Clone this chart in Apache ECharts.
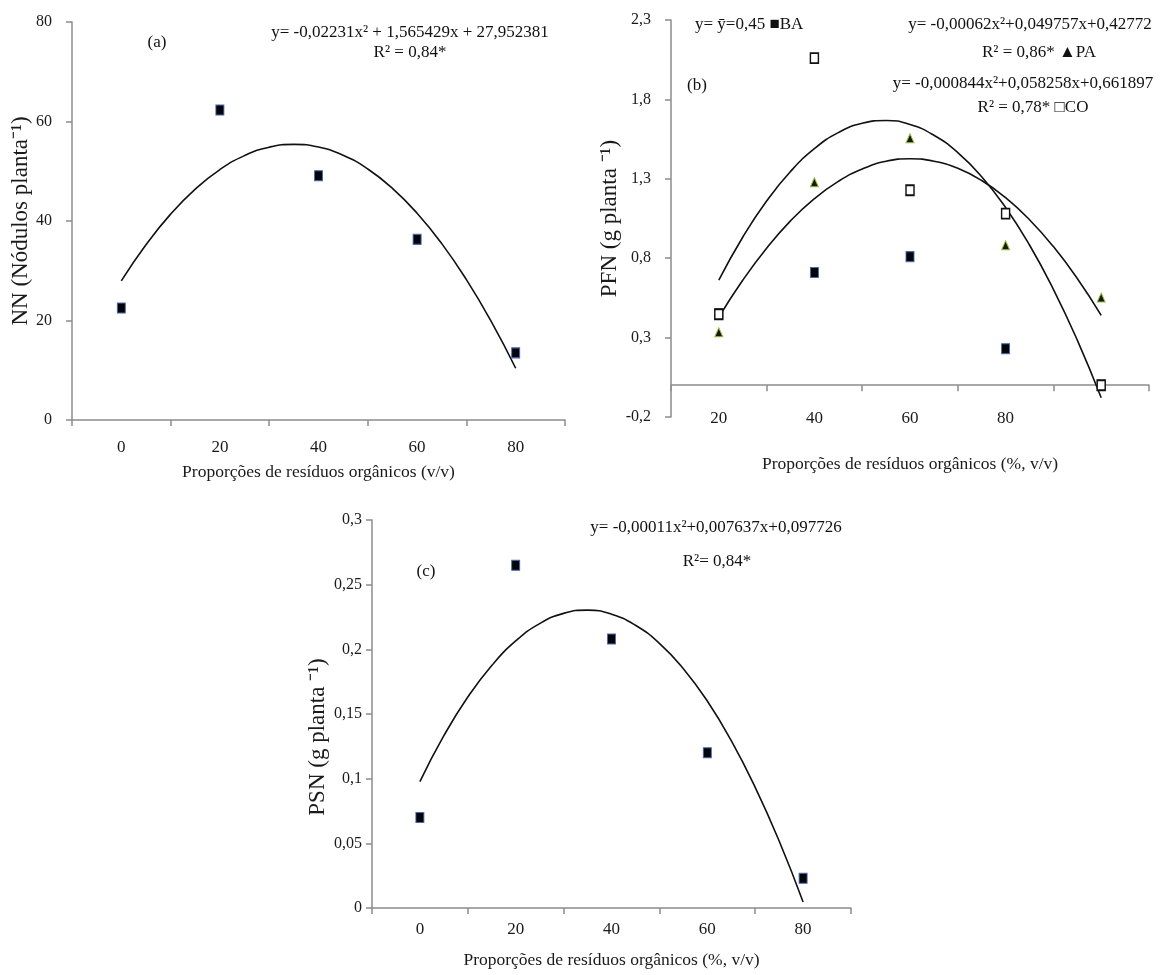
<!DOCTYPE html>
<html>
<head>
<meta charset="utf-8">
<title>NN, PFN e PSN</title>
<script src="https://cdn.jsdelivr.net/npm/echarts@6/dist/echarts.min.js"></script>
<style>
html, body { margin: 0; padding: 0; background: #fff; }
#main { width: 1166px; height: 975px; }
</style>
</head>
<body>
<div id="main"></div>
<script>
// (a) numero de nodulos
var dosesA = [0, 20, 40, 60, 80];
var doseLabelsA = ['0', '20', '40', '60', '80'];
var nnPoints = [22.5, 62.3, 49.1, 36.3, 13.5];
var curveXA = [0, 5, 10, 15, 20, 25, 30, 35, 40, 45, 50, 55, 60, 65, 70, 75, 80];
var nnCurve = [27.95, 35.22, 41.38, 46.41, 50.34, 53.14, 54.84, 55.41, 54.87, 53.22, 50.45, 46.56, 41.56, 35.45, 28.21, 19.87, 10.40];

// (b) PFN - BA, PA, CO
var dosesB = [20, 40, 60, 80, 100];
var doseLabelsB = ['20', '40', '60', '80', ''];
var pfnBA = [0.45, 0.71, 0.81, 0.23, 0.0];
var pfnPA = [0.334, 1.278, 1.555, 0.882, 0.552];
var pfnCO = [0.447, 2.06, 1.228, 1.081, 0.0];
var curveXB = [20, 25, 30, 35, 40, 45, 50, 55, 60, 65, 70, 75, 80, 85, 90, 95, 100];
var paCurve = [0.428, 0.661, 0.863, 1.035, 1.175, 1.284, 1.362, 1.410, 1.426, 1.411, 1.366, 1.289, 1.181, 1.042, 0.873, 0.672, 0.440];
var coCurve = [0.662, 0.932, 1.160, 1.346, 1.490, 1.591, 1.650, 1.667, 1.642, 1.574, 1.465, 1.313, 1.119, 0.883, 0.604, 0.284, -0.079];

// (c) PSN
var psnPoints = [0.07, 0.265, 0.208, 0.12, 0.023];
var psnCurve = [0.0977, 0.1332, 0.1631, 0.1875, 0.2065, 0.2199, 0.2278, 0.2303, 0.2272, 0.2186, 0.2046, 0.1850, 0.1600, 0.1294, 0.0933, 0.0518, 0.0047];

var serif = '"Liberation Serif", "Times New Roman", serif';
var axisGrey = '#8c8c8c';

function pairs(xs, ys) {
    return xs.map(function (x, i) { return [x, ys[i]]; });
}

function comma(v, d) {
    var s = (d == null) ? String(Math.round(v * 100) / 100) : v.toFixed(d);
    return s.replace('.', ',');
}

// eixo de categorias: so rotulos e marcas
function catAxis(grid, labels, margin, name, gap) {
    return {
        type: 'category', gridIndex: grid, data: labels, boundaryGap: true,
        axisLine: { show: true, lineStyle: { color: axisGrey, width: 1.5 } },
        axisTick: { show: true, inside: false, interval: 0, alignWithLabel: false, length: 6,
                    lineStyle: { color: axisGrey, width: 1.5 } },
        axisLabel: { margin: margin, interval: 0, color: '#1a1a1a', fontFamily: serif, fontSize: 17 },
        splitLine: { show: false },
        name: name, nameLocation: 'middle', nameGap: gap,
        nameTextStyle: { color: '#1a1a1a', fontFamily: serif, fontSize: 17.5 }
    };
}

// eixo de valores escondido, posiciona os pontos
function hiddenX(grid, min, max) {
    return { type: 'value', gridIndex: grid, min: min, max: max, show: false };
}

function valAxis(grid, min, max, step, margin, fmt, name, gap, pad) {
    return {
        type: 'value', gridIndex: grid, min: min, max: max, interval: step,
        axisLine: { show: true, onZero: false, lineStyle: { color: axisGrey, width: 1.5 } },
        axisTick: { show: true, length: 6, lineStyle: { color: axisGrey, width: 1.5 } },
        axisLabel: { margin: margin, color: '#1a1a1a', fontFamily: serif, fontSize: 16, formatter: fmt },
        splitLine: { show: false },
        name: name, nameLocation: 'middle', nameGap: gap,
        nameTextStyle: { color: '#1a1a1a', fontFamily: serif, fontSize: 23, padding: pad || 0 }
    };
}

var blackSquare = { color: '#02040c', borderColor: '#4a6aa8', borderWidth: 1, opacity: 1 };
var greenTriangle = { color: '#141c04', borderColor: '#9cbc4c', borderWidth: 1, opacity: 1 };
var openSquare = { color: '#ffffff', borderColor: '#111111', borderWidth: 1.6, opacity: 1 };
var curveStyle = { color: '#111', width: 1.6 };

function text(x, y, s, align) {
    return {
        type: 'text', x: x, y: y, z: 10,
        style: {
            text: s, fill: '#111', font: '17px ' + serif,
            align: align || 'center', verticalAlign: 'middle'
        }
    };
}

var chart = echarts.init(document.getElementById('main'));

var option = {
    backgroundColor: '#ffffff',
    animation: false,
    grid: [
        { left: 72, top: 22, width: 493, height: 398, containLabel: false },
        { left: 671, top: 20, width: 478, height: 397, containLabel: false },
        { left: 372, top: 520, width: 479, height: 388, containLabel: false }
    ],
    xAxis: [
        catAxis(0, doseLabelsA, 19, 'Proporções de resíduos orgânicos (v/v)', 43),
        hiddenX(0, -10, 90),
        catAxis(1, doseLabelsB, -7, 'Proporções de resíduos orgânicos (%, v/v)', 38),
        hiddenX(1, 10, 110),
        catAxis(2, doseLabelsA, 13, 'Proporções de resíduos orgânicos (%, v/v)', 43),
        hiddenX(2, -10, 90)
    ],
    yAxis: [
        valAxis(0, 0, 80, 20, 20, function (v) { return String(v); }, 'NN (Nódulos planta⁻¹)', 34),
        valAxis(1, -0.2, 2.3, 0.5, 20, function (v) { return comma(v, 1); }, 'PFN (g planta ⁻¹)', 46),
        valAxis(2, 0, 0.3, 0.05, 10, function (v) { return comma(v); }, 'PSN (g planta ⁻¹)', 43, [0, 46, 0, 0])
    ],
    series: [
        // (a)
        { type: 'line', xAxisIndex: 1, yAxisIndex: 0, data: pairs(curveXA, nnCurve),
          smooth: true, showSymbol: false, lineStyle: curveStyle, z: 2 },
        { type: 'scatter', xAxisIndex: 1, yAxisIndex: 0, data: pairs(dosesA, nnPoints),
          symbol: 'rect', symbolSize: [8, 10], itemStyle: blackSquare, z: 3 },
        // (b)
        { type: 'line', xAxisIndex: 3, yAxisIndex: 1, data: pairs(curveXB, paCurve),
          smooth: true, showSymbol: false, lineStyle: curveStyle, z: 2 },
        { type: 'line', xAxisIndex: 3, yAxisIndex: 1, data: pairs(curveXB, coCurve),
          smooth: true, showSymbol: false, lineStyle: curveStyle, z: 2 },
        { type: 'scatter', xAxisIndex: 3, yAxisIndex: 1, data: pairs(dosesB, pfnBA),
          symbol: 'rect', symbolSize: [8, 10], itemStyle: blackSquare, z: 3 },
        { type: 'scatter', xAxisIndex: 3, yAxisIndex: 1, data: pairs(dosesB, pfnPA),
          symbol: 'triangle', symbolSize: [8, 9], itemStyle: greenTriangle, z: 3 },
        { type: 'scatter', xAxisIndex: 3, yAxisIndex: 1, data: pairs(dosesB, pfnCO),
          symbol: 'rect', symbolSize: [8, 10], itemStyle: openSquare, z: 4 },
        // (c)
        { type: 'line', xAxisIndex: 5, yAxisIndex: 2, data: pairs(curveXA, psnCurve),
          smooth: true, showSymbol: false, lineStyle: curveStyle, z: 2 },
        { type: 'scatter', xAxisIndex: 5, yAxisIndex: 2, data: pairs(dosesA, psnPoints),
          symbol: 'rect', symbolSize: [8, 10], itemStyle: blackSquare, z: 3 }
    ],
    graphic: [
        text(157, 43, '(a)'),
        text(410, 33, 'y= -0,02231x² + 1,565429x + 27,952381'),
        text(410, 53, 'R² = 0,84*'),

        text(695, 25, 'y= ȳ=0,45 ■BA', 'left'),
        text(697, 86, '(b)'),
        text(1030, 25, 'y= -0,00062x²+0,049757x+0,42772'),
        text(1039, 53, 'R² = 0,86* ▲PA'),
        text(1023, 84, 'y= -0,000844x²+0,058258x+0,661897'),
        text(1033, 108, 'R² = 0,78* □CO'),

        text(426, 572, '(c)'),
        text(716, 528, 'y= -0,00011x²+0,007637x+0,097726'),
        text(717, 562, 'R²= 0,84*')
    ]
};

chart.setOption(option);
</script>
</body>
</html>
